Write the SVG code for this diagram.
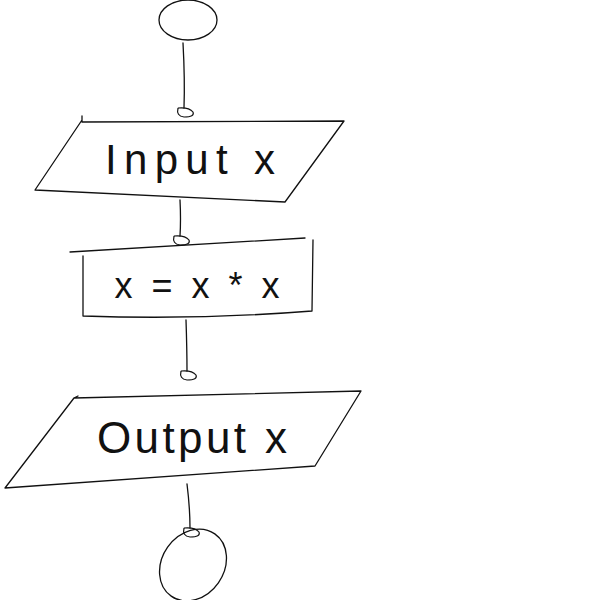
<svg xmlns="http://www.w3.org/2000/svg" width="600" height="600" viewBox="0 0 600 600">
<style>
.s{fill:none;stroke:#111;stroke-width:1.3;stroke-linecap:round;stroke-linejoin:round}
.t{font-family:"Liberation Sans","DejaVu Sans",sans-serif;font-weight:300;fill:#111;text-anchor:middle}
</style>
<defs>
<marker id="loop" markerWidth="26" markerHeight="18" refX="10" refY="3" orient="0" markerUnits="userSpaceOnUse">
<path d="M4,3 Q2,11 10,12 Q21,12 19,7 Q15,2 4,3" fill="none" stroke="#111" stroke-width="1.2"/>
</marker>
</defs>
<rect width="600" height="600" fill="#fff"/>
<g id="start">
<ellipse class="s" cx="188" cy="20" rx="29" ry="20"/>
</g>
<g id="input">
<path class="s" d="M82,116 L82,122 L344,121 L285,202 L35,190 L82,120"/>
<text class="t" x="190" y="174" font-size="42" textLength="170" lengthAdjust="spacing">Input x</text>
</g>
<g id="process">
<path class="s" d="M70,252 Q190,245 305,238"/>
<path class="s" d="M83,256 L83,316 Q200,320 312,311 L313,240"/>
<text class="t" x="197" y="298" font-size="36" textLength="165" lengthAdjust="spacing">x = x * x</text>
</g>
<g id="output">
<path class="s" d="M78,396 L74,398 L361,391 L315,466 L5,488 L74,398"/>
<text class="t" x="192" y="453" font-size="44" textLength="190" lengthAdjust="spacing">Output x</text>
</g>
<g id="end">
<ellipse class="s" cx="193" cy="565" rx="31" ry="38" transform="rotate(35 193 565)"/>
</g>
<g id="connectors">
<path class="s" d="M183,43 Q185,80 184,108" marker-end="url(#loop)"/>
<path class="s" d="M180,200 Q181,220 180,236" marker-end="url(#loop)"/>
<path class="s" d="M186,320 Q187,350 187,371" marker-end="url(#loop)"/>
<path class="s" d="M187,484 Q190,508 190,528" marker-end="url(#loop)"/>
</g>
</svg>
